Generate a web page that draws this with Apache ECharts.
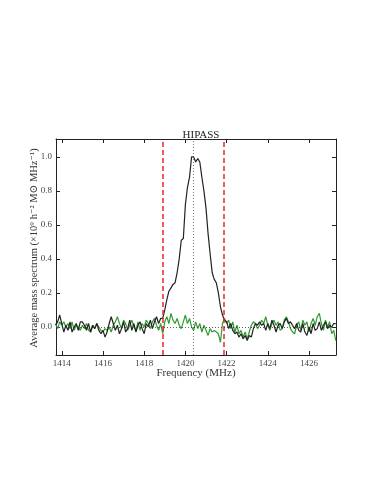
<!DOCTYPE html>
<html>
<head>
<meta charset="utf-8">
<script src="https://cdn.jsdelivr.net/npm/echarts@6/dist/echarts.min.js"></script>
<style>
  html, body { margin: 0; padding: 0; background: #fff; }
  #chart { width: 383px; height: 495px; }
</style>
</head>
<body>
<div id="chart"></div>
<script>
// channel grid (MHz)
var freqStart = 1413.7;
var freqStep = 0.1;

// stacked spectrum (black)
var spectrum = [
  0.01, 0.03, 0.07, 0.02, -0.03, 0.01, -0.02, 0.03, -0.03, 0.00,
  0.02, -0.02, 0.03, 0.03, 0.01, -0.02, 0.02, -0.03, 0.01, -0.01,
  0.02, -0.02, -0.04, -0.02, -0.06, -0.03, 0.02, 0.06, 0.02, -0.02,
  0.01, -0.04, -0.01, 0.03, -0.03, -0.01, 0.04, -0.02, 0.02, -0.03,
  0.01, 0.03, -0.01, -0.04, 0.02, 0.00, 0.04, -0.01, 0.03, 0.06,
  0.02, 0.05,
  0.05, 0.10, 0.16, 0.21, 0.23, 0.25, 0.26, 0.32, 0.40, 0.51,
  0.52, 0.72, 0.82, 0.88, 1.00, 1.00, 0.97, 0.99, 0.97, 0.88,
  0.80, 0.70, 0.55, 0.43, 0.32, 0.28, 0.26, 0.20, 0.12, 0.07,
  0.04, 0.03,
  -0.01, 0.02, -0.02, -0.04, -0.03, -0.06, -0.04, -0.07, -0.05, -0.08,
  -0.05, -0.06, -0.01, 0.02, 0.01, 0.03, 0.01, 0.02, -0.02, 0.02,
  -0.01, 0.04, 0.01, -0.03, 0.01, 0.02, -0.01, 0.03, 0.05, 0.02,
  0.03, 0.01, -0.01, 0.02, -0.02, -0.03, 0.02, -0.03, -0.05, 0.00,
  -0.04, 0.02, -0.02, -0.01, 0.03, -0.02, 0.01, 0.03, -0.01, 0.01,
  0.00, 0.02, 0.02
];

// control spectrum (green)
var control = [
  0.02, -0.01, 0.03, 0.01, 0.03, 0.00, 0.02, -0.01, 0.03, -0.02,
  0.01, 0.00, -0.02, 0.01, -0.01, 0.02, -0.02, -0.03, 0.01, -0.01,
  0.02, 0.00, -0.02, -0.03, -0.01, -0.02, 0.00, -0.03, 0.01, 0.03,
  0.06, 0.02, -0.01, 0.04, 0.02, -0.02, 0.01, 0.04, 0.00, -0.02,
  0.03, -0.02, 0.02, 0.00, 0.04, 0.02, -0.01, 0.03, 0.05, 0.01,
  -0.02, 0.02,
  -0.04, 0.03, 0.06, 0.02, 0.08, 0.04, 0.02, 0.05, 0.01, -0.01,
  0.03, 0.07, 0.02, 0.05, 0.00, -0.02, 0.03, -0.01, 0.02, -0.03,
  0.01, -0.02, -0.05, -0.01, -0.03, -0.02, -0.03, -0.04, -0.09, 0.02,
  0.05, 0.02,
  0.04, -0.01, 0.03, -0.03, 0.01, -0.04, -0.02, -0.06, -0.03, -0.07,
  -0.03, 0.01, 0.03, 0.02, -0.01, 0.01, 0.04, 0.02, 0.06, 0.01,
  -0.02, 0.02, 0.04, 0.01, 0.03, -0.02, -0.01, 0.04, 0.06, 0.03,
  -0.01, -0.03, -0.04, 0.01, 0.03, -0.02, 0.04, 0.01, 0.03, -0.03,
  0.02, 0.05, 0.01, 0.06, 0.08, 0.02, -0.02, 0.04, 0.00, 0.03,
  -0.04, -0.02, -0.08
];

var windowEdges = [1418.92, 1421.84];
var restFreq = 1420.40;
var xTicks = [1414, 1416, 1418, 1420, 1422, 1424, 1426];
var yTicks = [0.0, 0.2, 0.4, 0.6, 0.8, 1.0];
var xRange = [1413.72, 1427.31];
var yRange = [-0.165, 1.105];

function pairs(vals) {
  var out = [];
  for (var i = 0; i < vals.length; i++) {
    out.push([+(freqStart + i * freqStep).toFixed(2), vals[i]]);
  }
  return out;
}

var serif = '"Liberation Serif", "DejaVu Serif", serif';
var axisCol = '#222';

function xAx(pos, labels) {
  return {
    type: 'value', position: pos, min: xRange[0], max: xRange[1],
    axisLine: { show: true, onZero: false, lineStyle: { color: axisCol, width: 1 } },
    axisTick: { show: true, inside: true, length: 4, customValues: xTicks, lineStyle: { color: axisCol } },
    axisLabel: { show: labels, customValues: xTicks, margin: 4, color: '#444', fontFamily: serif, fontSize: 9,
      formatter: function (v) { return String(v); } },
    splitLine: { show: false }
  };
}
function yAx(pos, labels) {
  return {
    type: 'value', position: pos, min: yRange[0], max: yRange[1],
    axisLine: { show: true, onZero: false, lineStyle: { color: axisCol, width: 1 } },
    axisTick: { show: true, inside: true, length: 4, customValues: yTicks, lineStyle: { color: axisCol } },
    axisLabel: { show: labels, customValues: yTicks, margin: 4, color: '#444', fontFamily: serif, fontSize: 9,
      formatter: function (v) { return v.toFixed(1); } },
    splitLine: { show: false }
  };
}

var chart = echarts.init(document.getElementById('chart'));
chart.setOption({
  animation: false,
  backgroundColor: '#fff',
  title: {
    text: 'HIPASS', left: 196, top: 125, textAlign: 'center',
    textStyle: { fontFamily: serif, fontSize: 11, fontWeight: 'normal', color: '#222' }
  },
  grid: { left: 56, right: 47, top: 139, bottom: 140 },
  xAxis: [xAx('bottom', true), xAx('top', false)],
  yAxis: [yAx('left', true), yAx('right', false)],
  graphic: [
    {
      type: 'text', x: 196, y: 373,
      style: { text: 'Frequency (MHz)', font: '11px ' + serif, fill: '#333',
        align: 'center', verticalAlign: 'middle' }
    },
    {
      type: 'text', x: 34, y: 248, rotation: Math.PI / 2,
      style: {
        text: 'Average mass spectrum (×10⁹ h⁻² M⊙ MHz⁻¹)', font: '10.5px ' + serif, fill: '#333',
        align: 'center', verticalAlign: 'middle'
      }
    }
  ],
  series: [
    {
      type: 'line', name: 'control', data: pairs(control), showSymbol: false,
      lineStyle: { color: '#2f9a2f', width: 1.2 }, z: 2
    },
    {
      type: 'line', name: 'spectrum', data: pairs(spectrum), showSymbol: false,
      lineStyle: { color: '#222', width: 1.2 }, z: 3,
      markLine: {
        silent: true, symbol: 'none', label: { show: false },
        data: [
          { xAxis: windowEdges[0], lineStyle: { color: '#e8262b', type: [5, 3], width: 1.5 } },
          { xAxis: windowEdges[1], lineStyle: { color: '#e8262b', type: [5, 3], width: 1.5 } },
          { xAxis: restFreq, lineStyle: { color: '#555', type: [1, 2], width: 0.8 } },
          { yAxis: 0, lineStyle: { color: '#333', type: [1, 2], width: 0.8 } }
        ]
      }
    }
  ]
});
</script>
</body>
</html>
